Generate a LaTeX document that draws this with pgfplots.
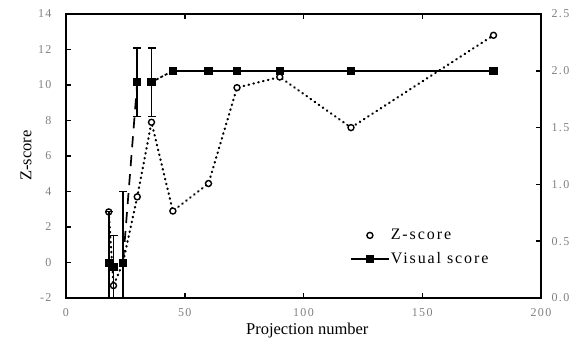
\documentclass[border=0pt]{standalone}
\usepackage{fontspec}
\setmainfont{Liberation Serif}
\newfontfamily\lsfont{Liberation Serif}[LetterSpace=12]
\newfontfamily\tkfont{Liberation Serif}[LetterSpace=12]
\usepackage{pgfplots}
\pgfplotsset{compat=1.18}
\pgfplotsset{
  zleg/.style={legend image code/.code={\draw[##1] plot[only marks] coordinates {(19pt,0pt)};}},
  vleg/.style={legend image code/.code={\draw[##1, mark repeat=2, mark phase=2] plot coordinates {(0pt,0pt)(19pt,0pt)(38pt,0pt)};}},
}
\pgfplotstableread{
x y e
18 0.31 0.45
20 0.27 0.28
24 0.31 0.63
30 1.90 0.30
}\visA
\pgfplotstableread{
x y e
36 1.90 0.30
45 2.00 0
}\visB
\pgfplotstableread{
x y
45 2.0
60 2.0
72 2.0
90 2.0
120 2.0
180 2.0
}\visC
\pgfplotstableread{
x y
18 2.85
20 -1.3
24 0
30 3.7
36 7.9
45 2.9
60 4.45
72 9.85
90 10.45
120 7.6
180 12.8
}\zscore
\begin{document}
\begin{tikzpicture}
\useasboundingbox (-66pt,-47pt) rectangle (518pt,298pt);
\pgfplotsset{
 common/.style={scale only axis, width=475pt, height=284pt, xmin=0, xmax=200,
   at={(0pt,0pt)}, anchor=south west,
   tick align=inside, major tick length=5pt,
   every tick/.style={black, line width=1.5pt},
   axis line style={line width=1.7pt},
   /pgf/number format/assume math mode=true,
   tick label style={font=\fontsize{12}{14}\tkfont, text=black!50},
 }
}
\begin{axis}[common, ymin=-2, ymax=14, ytick={-2,0,...,14}, xtick={0,50,...,200},
  xtick pos=both, xticklabel pos=lower, ytick pos=left,
  yticklabel style={xshift=-11pt},
  xticklabel style={yshift=-7pt},
  xlabel={Projection number}, ylabel={Z-score},
  label style={font=\fontsize{16.5}{18}\selectfont},
  xlabel style={at={(axis description cs:0.508,0)}, anchor=north, inner sep=0pt, yshift=-24.8pt},
  ylabel style={at={(axis description cs:-0.0722,0.502)}, anchor=south, inner sep=0pt},
]
\addplot[black, line width=2.2pt, line cap=round, dash pattern=on 0.6pt off 4.4pt,
  mark=*, mark size=3pt, mark options={solid, fill=white, draw=black, line width=1.4pt}]
  table[x=x,y=y] {\zscore};
\end{axis}
\begin{axis}[common, ymin=0, ymax=2.5, axis y line*=right, axis x line=none,
  ytick={0,0.5,...,2.5},
  yticklabel style={xshift=7pt, /pgf/number format/.cd, fixed, fixed zerofill, precision=1},
  legend style={draw=none, fill=none, at={(axis description cs:0.598,0.245)}, anchor=north west,
    inner sep=0pt, outer sep=0pt, row sep=9pt, font=\fontsize{16}{18}\lsfont, nodes={inner sep=1pt}},
  legend cell align=left,
]
\addlegendimage{black, mark=*, mark size=3pt, mark options={fill=white, line width=1.4pt}, zleg}
\addlegendentry{Z-score}
\addlegendimage{black, line width=1.7pt, mark=square*, mark size=3.3pt, vleg}
\addlegendentry{Visual score}
\addplot[forget plot, black, line width=1.7pt, dash pattern=on 11pt off 8pt, mark=square*, mark size=3.3pt,
  mark options={solid},
  error bars/.cd, y dir=both, y explicit,
  error bar style={solid, line width=1.6pt},
  error mark options={rotate=90, solid, line width=1.3pt, mark size=4pt}]
  table[x=x,y=y,y error=e] {\visA};
\addplot[forget plot, black, line width=1.7pt, dash pattern=on 3pt off 2pt, mark=square*, mark size=3.3pt,
  mark options={solid},
  error bars/.cd, y dir=both, y explicit,
  error bar style={solid, line width=1.6pt},
  error mark options={rotate=90, solid, line width=1.3pt, mark size=4pt}]
  table[x=x,y=y,y error=e] {\visB};
\addplot[forget plot, black, line width=1.7pt, mark=square*, mark size=3.3pt]
  table[x=x,y=y] {\visC};
\end{axis}
\end{tikzpicture}
\end{document}
